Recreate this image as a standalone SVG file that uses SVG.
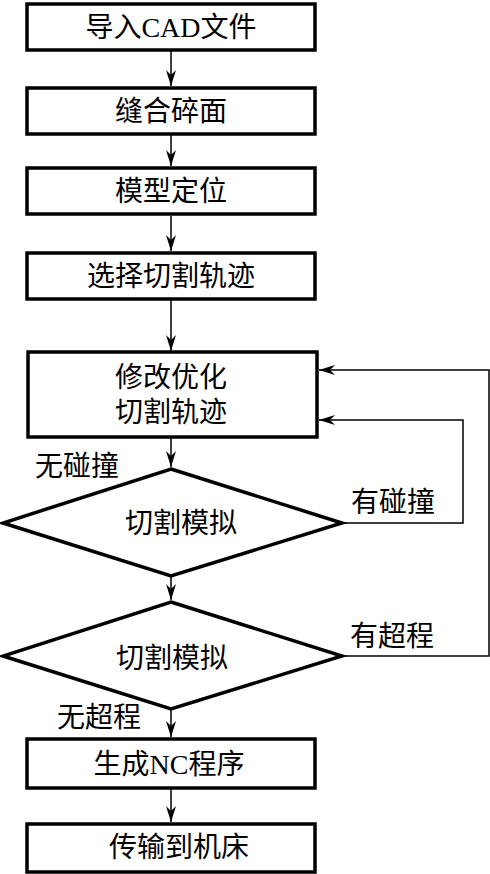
<svg xmlns="http://www.w3.org/2000/svg" width="490" height="874" viewBox="0 0 490 874">
<style>
.n{fill:#fff;stroke:#000;stroke-width:3.5}
.c{fill:none;stroke:#000;stroke-width:1.5}
text{font-family:"Liberation Serif","Noto Sans CJK SC",serif;font-size:28px;fill:#000;text-anchor:middle;dominant-baseline:central}
.l{text-anchor:start}
</style>
<defs>
<marker id="a" viewBox="0 0 16 10" refX="16" refY="5" markerWidth="16" markerHeight="10" markerUnits="userSpaceOnUse" orient="auto">
<path d="M0,0 L16,5 L0,10 L5,5 Z" fill="#000"/>
</marker>
</defs>
<rect width="490" height="874" fill="#fff"/>
<g id="connectors">
<line class="c" x1="171" y1="51" x2="171" y2="86" marker-end="url(#a)"/>
<line class="c" x1="171" y1="135" x2="171" y2="166" marker-end="url(#a)"/>
<line class="c" x1="171" y1="216" x2="171" y2="251" marker-end="url(#a)"/>
<line class="c" x1="171" y1="300" x2="171" y2="351" marker-end="url(#a)"/>
<line class="c" x1="171" y1="438" x2="171" y2="467" marker-end="url(#a)"/>
<line class="c" x1="171" y1="577" x2="171" y2="600" marker-end="url(#a)"/>
<line class="c" x1="171" y1="710" x2="171" y2="737" marker-end="url(#a)"/>
<line class="c" x1="171" y1="789" x2="171" y2="822" marker-end="url(#a)"/>
<polyline class="c" points="342,523 463,523 463,420 319,420" marker-end="url(#a)"/>
<polyline class="c" points="342,656 489,656 489,370 319,370" marker-end="url(#a)"/>
</g>
<g id="n1"><rect class="n" x="27" y="4" width="288" height="46"/><text x="171" y="27">导入CAD文件</text></g>
<g id="n2"><rect class="n" x="27" y="88" width="288" height="46"/><text x="171" y="111">缝合碎面</text></g>
<g id="n3"><rect class="n" x="27" y="168" width="288" height="46"/><text x="171" y="191">模型定位</text></g>
<g id="n4"><rect class="n" x="27" y="253" width="288" height="46"/><text x="171" y="276">选择切割轨迹</text></g>
<g id="n5"><rect class="n" x="28" y="352" width="289" height="85"/><text x="171" y="377">修改优化</text><text x="171" y="412">切割轨迹</text></g>
<g id="d1"><polygon class="n" points="171,469 342,523 171,576 3,523"/><text x="181" y="523">切割模拟</text></g>
<g id="d2"><polygon class="n" points="171,602 342,656 171,709 3,656"/><text x="172" y="658">切割模拟</text></g>
<g id="n6"><rect class="n" x="27" y="739" width="288" height="49"/><text x="169" y="764">生成NC程序</text></g>
<g id="n7"><rect class="n" x="27" y="824" width="288" height="48"/><text x="179" y="847">传输到机床</text></g>
<g id="labels">
<text class="l" x="35" y="466">无碰撞</text>
<text class="l" x="351" y="502">有碰撞</text>
<text class="l" x="350" y="636">有超程</text>
<text class="l" x="57" y="717">无超程</text>
</g>
</svg>
